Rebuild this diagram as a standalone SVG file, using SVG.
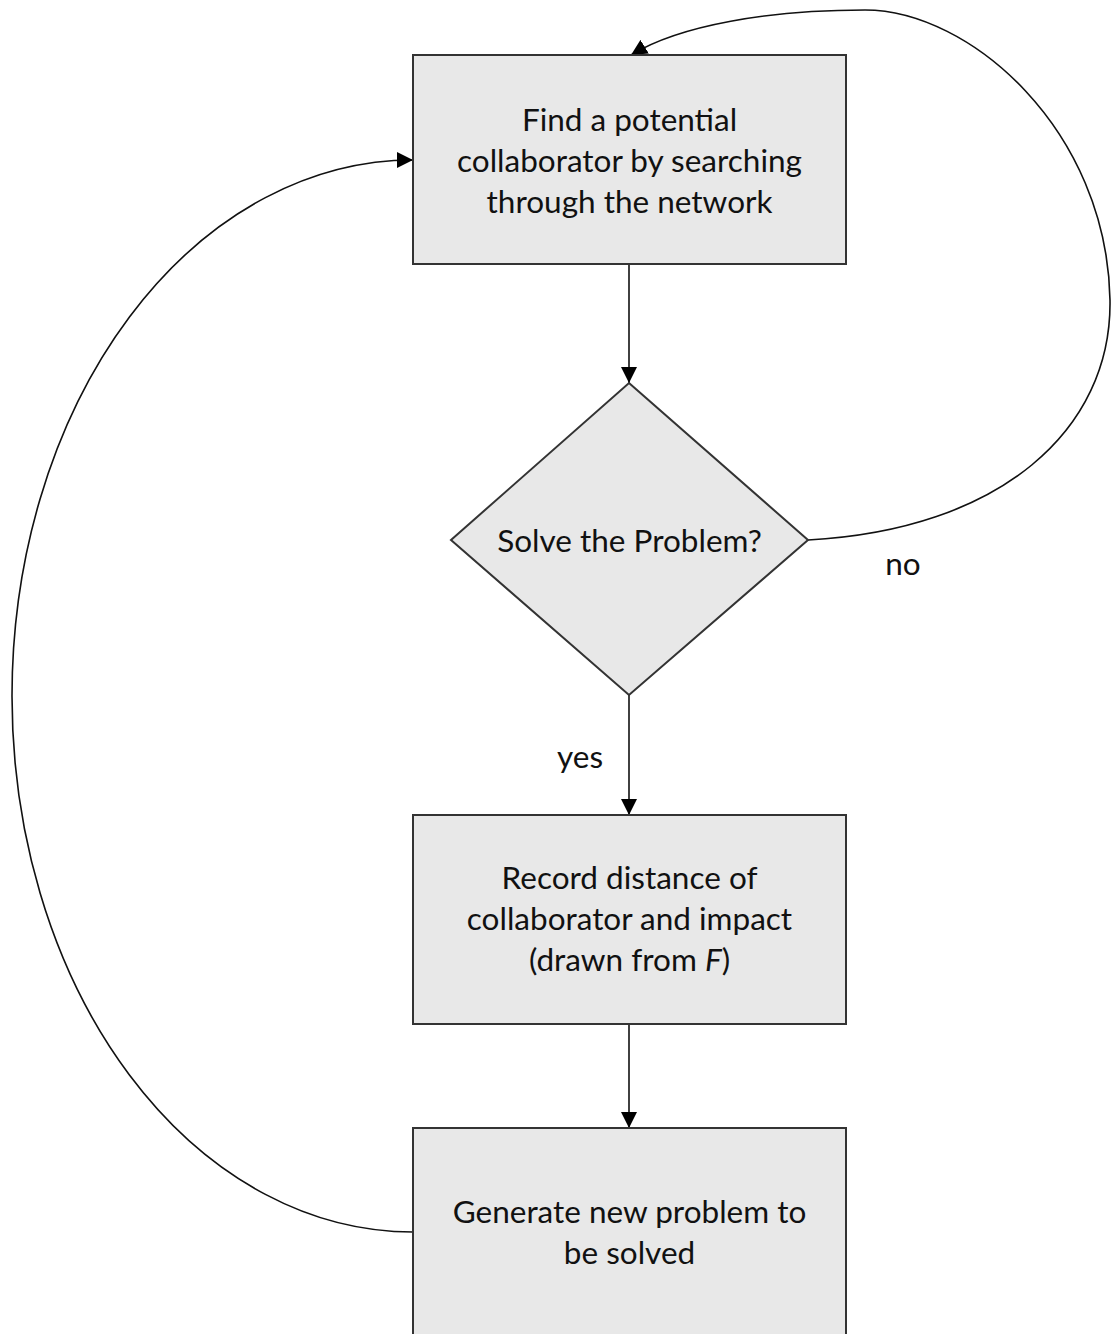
<svg xmlns="http://www.w3.org/2000/svg" width="1113" height="1334" viewBox="0 0 1113 1334">
<style>
.node{fill:#e8e8e8;stroke:#333;stroke-width:2}
.t{font-family:Lato,"Noto Sans",sans-serif;font-size:31.5px;fill:#111;text-anchor:middle}
.c{fill:none;stroke:#111;stroke-width:1.6}
</style>
<defs>
<marker id="ah" viewBox="0 0 10 10" refX="10" refY="5" markerWidth="16" markerHeight="16" markerUnits="userSpaceOnUse" orient="auto">
<path d="M0,0 L10,5 L0,10 Z" fill="#000"/>
</marker>
</defs>
<rect width="1113" height="1334" fill="#fff"/>
<g id="connectors">
<line class="c" x1="629" y1="264" x2="629" y2="383" marker-end="url(#ah)"/>
<line class="c" x1="629" y1="695" x2="629" y2="815" marker-end="url(#ah)"/>
<line class="c" x1="629" y1="1024" x2="629" y2="1128" marker-end="url(#ah)"/>
<path class="c" d="M808,540 C1000,530 1112,430 1110,300 C1107,130 970,10 865,10 C770,10 680,25 631,55" marker-end="url(#ah)"/>
<path class="c" d="M413,1232 A401,536 0 0 1 413,160" marker-end="url(#ah)"/>
<text class="t" x="580" y="768">yes</text>
<text class="t" x="903" y="575">no</text>
</g>
<g id="n1">
<rect class="node" x="413" y="55" width="433" height="209"/>
<text class="t" x="629.5" y="131">Find a potential</text>
<text class="t" x="629.5" y="172">collaborator by searching</text>
<text class="t" x="629.5" y="213">through the network</text>
</g>
<g id="n2">
<polygon class="node" points="629,383 808,540 629,695 451,540"/>
<text class="t" x="629.5" y="552">Solve the Problem?</text>
</g>
<g id="n3">
<rect class="node" x="413" y="815" width="433" height="209"/>
<text class="t" x="629.5" y="889">Record distance of</text>
<text class="t" x="629.5" y="930">collaborator and impact</text>
<text class="t" x="629.5" y="971">(drawn from <tspan font-style="italic">F</tspan>)</text>
</g>
<g id="n4">
<rect class="node" x="413" y="1128" width="433" height="212"/>
<text class="t" x="629.5" y="1223">Generate new problem to</text>
<text class="t" x="629.5" y="1264">be solved</text>
</g>
</svg>
